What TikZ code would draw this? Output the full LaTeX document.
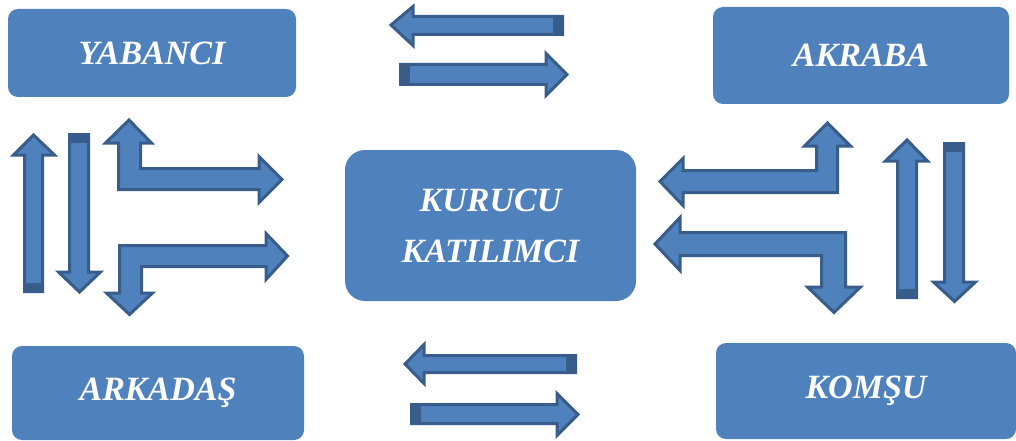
\documentclass[tikz,border=0pt]{standalone}
\usepackage{fontspec}
\setmainfont{Liberation Serif}
\definecolor{boxblue}{HTML}{4F81BD}
\definecolor{arrblue}{HTML}{4F81BD}
\definecolor{arrdark}{HTML}{385D8A}
\tikzset{
  entity/.style={fill=boxblue, rounded corners=10pt, text=white, inner sep=0pt,
    font=\bfseries\itshape\fontsize{34}{51}\selectfont, align=center},
  barrow/.style={fill=arrblue, draw=arrdark, line width=3pt, line join=miter},
  arrcap/.style={fill=arrdark},
}
\begin{document}
\begin{tikzpicture}[x=1pt,y=-1pt]
\useasboundingbox (0,0) rectangle (1016,441);
% boxes
\node[entity, minimum width=288pt, minimum height=88pt] (yab) at (152,53) {YABANCI};
\node[entity, minimum width=296pt, minimum height=97pt] (akr) at (861,55.5) {AKRABA};
\node[entity, minimum width=291pt, minimum height=151pt, rounded corners=20pt] (kur) at (490.5,225.5) {KURUCU\\KATILIMCI};
\node[entity, minimum width=292pt, minimum height=94pt] (ark) at (158,393) {ARKADAŞ};
\node[entity, minimum width=300pt, minimum height=96pt] (kom) at (866,391) {KOMŞU};
% top pair
\draw[barrow] (391,25) -- (413,6.5) -- (413,16.5) -- (562.5,16.5) -- (562.5,34.5) -- (413,34.5) -- (413,45.5) -- cycle;
\fill[arrcap] (553,15) rectangle (564,36);
\draw[barrow] (400.5,64.5) -- (546,64.5) -- (546,53.5) -- (567,74.5) -- (546,95.5) -- (546,84.5) -- (400.5,84.5) -- cycle;
\fill[arrcap] (399,63) rectangle (410,86);
% bottom pair
\draw[barrow] (405,364) -- (424,344.5) -- (424,355.5) -- (575.5,355.5) -- (575.5,372.5) -- (424,372.5) -- (424,383.5) -- cycle;
\fill[arrcap] (566,354) rectangle (577,374);
\draw[barrow] (411.5,404.5) -- (557,404.5) -- (557,393.5) -- (578,414.5) -- (557,435.5) -- (557,423.5) -- (411.5,423.5) -- cycle;
\fill[arrcap] (410,403) rectangle (421,425);
% left verticals
\draw[barrow] (33.5,135) -- (54.5,155) -- (42.5,155) -- (42.5,291.5) -- (24.5,291.5) -- (24.5,155) -- (13.5,155) -- cycle;
\fill[arrcap] (23,283) rectangle (44,293);
\draw[barrow] (69.5,134.5) -- (88.5,134.5) -- (88.5,272) -- (100.5,272) -- (79.5,292) -- (58.5,272) -- (69.5,272) -- cycle;
\fill[arrcap] (68,133) rectangle (90,143);
% left bent arrows
\draw[barrow] (129,120) -- (151.5,143) -- (140.5,143) -- (140.5,168.5) -- (259,168.5) -- (259,156.5) -- (282,179.5) -- (259,202.5) -- (259,189.5) -- (118.5,189.5) -- (118.5,143) -- (105.5,143) -- cycle;
\draw[barrow] (119.5,245.5) -- (266,245.5) -- (266,233.5) -- (287.5,256) -- (266,279.5) -- (266,266.5) -- (141.5,266.5) -- (141.5,293) -- (152.5,293) -- (129.5,314.5) -- (106.5,293) -- (119.5,293) -- cycle;
% right bent arrows
\draw[barrow] (660,181.5) -- (683,158.5) -- (683,170.5) -- (816.5,170.5) -- (816.5,146) -- (804.5,146) -- (827.5,123) -- (850.5,146) -- (837.5,146) -- (837.5,192.5) -- (683,192.5) -- (683,205.5) -- cycle;
\draw[barrow] (655,244) -- (680,217.5) -- (680,232.5) -- (845.5,232.5) -- (845.5,287) -- (860.5,287) -- (834,312.5) -- (807.5,287) -- (821.5,287) -- (821.5,255.5) -- (680,255.5) -- (680,270.5) -- cycle;
% right verticals
\draw[barrow] (907,140) -- (927.5,161) -- (916.5,161) -- (916.5,297.5) -- (897.5,297.5) -- (897.5,161) -- (885.5,161) -- cycle;
\fill[arrcap] (896,289) rectangle (918,299);
\draw[barrow] (944.5,143.5) -- (963.5,143.5) -- (963.5,282) -- (975.5,282) -- (954.5,301.5) -- (933.5,282) -- (944.5,282) -- cycle;
\fill[arrcap] (943,142) rectangle (965,152);
\end{tikzpicture}
\end{document}
